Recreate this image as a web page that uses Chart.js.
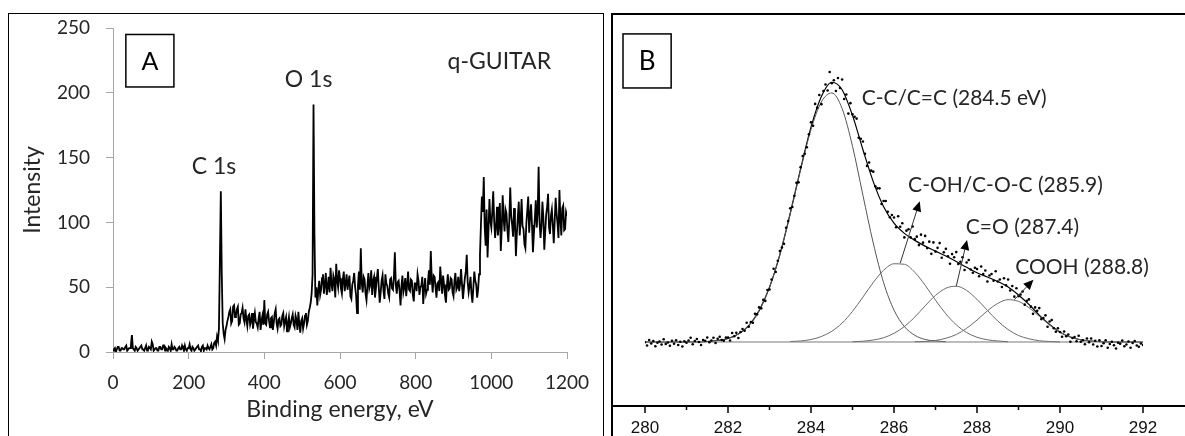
<!DOCTYPE html>
<html>
<head>
<meta charset="utf-8">
<script src="https://cdn.jsdelivr.net/npm/chart.js@4.4.1/dist/chart.umd.min.js"></script>
<style>
  html, body { margin: 0; padding: 0; background: #fff; }
  body { width: 1185px; height: 436px; position: relative; overflow: hidden; }
  canvas { position: absolute; top: 0; }
  #chartA { left: 0; }
  #chartB { left: 612px; }
  .frame { position: absolute; box-sizing: border-box; pointer-events: none; }
  #frameA { left: 8px; top: 13px; width: 596px; height: 440px; border: 1.5px solid #000; border-bottom: none; }
  #frameB { left: 611px; top: 13px; width: 600px; height: 440px; border-left: 2px solid #000; border-top: 2px solid #000; }
</style>
</head>
<body>
<canvas id="chartA" width="603" height="436"></canvas>
<canvas id="chartB" width="573" height="436"></canvas>
<div class="frame" id="frameA"></div>
<div class="frame" id="frameB"></div>
<script>
(() => {
    'use strict'

    // --- panel A : survey spectrum, one value every 2.5 eV from 0 to 1200 eV (20 values = 50 eV per row)
    const surveyStart = 0
    const surveyStep = 2.5
    const surveyCounts = [
        1, 2, 3, 0, 2, 4, 4, 1, 1, 3, 3, 2, 2, 4, 5, 1, 2, 3, 3, 6,
        13, 3, 2, 1, 4, 3, 1, 2, 3, 4, 5, 2, 2, 1, 3, 5, 1, 2, 4, 3,
        2, 8, 6, 1, 2, 3, 3, 1, 1, 4, 4, 2, 2, 5, 5, 1, 3, 2, 1, 4,
        3, 1, 6, 2, 2, 4, 3, 1, 1, 3, 4, 2, 2, 5, 3, 1, 5, 2, 1, 3,
        3, 6, 2, 1, 4, 3, 1, 2, 3, 4, 5, 2, 2, 1, 4, 5, 1, 3, 3, 2,
        5, 3, 2, 4, 6, 2, 3, 7, 8, 5, 12, 9, 18, 70, 124, 60, 22, 14, 10, 17,
        20, 24, 27, 31, 33, 22, 24, 35, 36, 27, 28, 33, 35, 21, 22, 29, 30, 34, 26, 23,
        33, 25, 20, 28, 29, 21, 24, 30, 18, 25, 30, 23, 22, 19, 26, 31, 17, 24, 28, 21,
        40, 22, 21, 29, 31, 24, 19, 26, 27, 17, 23, 30, 33, 22, 18, 25, 26, 20, 21, 28,
        30, 20, 24, 27, 16, 22, 27, 19, 22, 26, 29, 21, 19, 28, 25, 17, 31, 22, 15, 24,
        26, 18, 22, 28, 30, 21, 24, 31, 34, 38, 45, 60, 191, 90, 42, 50, 36, 47, 55, 44,
        48, 57, 60, 45, 52, 61, 44, 50, 58, 46, 65, 53, 47, 59, 56, 42, 68, 55, 50, 63,
        57, 49, 45, 56, 62, 47, 53, 60, 48, 54, 59, 43, 41, 52, 55, 61, 50, 44, 30, 51,
        62, 48, 80, 53, 46, 58, 56, 45, 40, 51, 61, 49, 52, 63, 44, 55, 58, 42, 49, 57,
        64, 50, 38, 46, 55, 59, 47, 41, 60, 53, 51, 45, 42, 56, 57, 49, 48, 58, 77, 52,
        45, 54, 55, 47, 36, 51, 59, 46, 50, 57, 43, 52, 62, 48, 47, 56, 55, 44, 39, 53,
        53, 47, 60, 55, 44, 50, 51, 58, 37, 49, 57, 45, 48, 54, 63, 52, 78, 56, 46, 59,
        58, 50, 42, 53, 54, 47, 66, 55, 45, 59, 52, 44, 38, 51, 60, 48, 49, 57, 56, 46,
        43, 55, 61, 48, 50, 58, 47, 53, 64, 52, 41, 49, 57, 62, 75, 54, 46, 51, 58, 45,
        38, 50, 62, 55, 52, 42, 48, 60, 75, 98, 120, 108, 135, 96, 82, 110, 73, 94, 118, 101,
        96, 108, 124, 101, 88, 97, 112, 90, 99, 115, 78, 95, 121, 103, 93, 110, 107, 94, 85, 102,
        127, 105, 98, 89, 111, 100, 74, 92, 104, 116, 90, 101, 118, 97, 95, 83, 80, 99, 109, 120,
        92, 105, 114, 98, 77, 91, 103, 117, 96, 108, 143, 100, 88, 97, 116, 104, 79, 93, 106, 112,
        122, 96, 91, 105, 110, 98, 84, 101, 119, 107, 99, 88, 125, 103, 90, 111, 113, 94, 95, 108,
        105
    ]
    const surveyNotes = [
        { text: 'C 1s', x: 267, y: 143 },
        { text: 'O 1s', x: 517, y: 210 },
        { text: 'q-GUITAR', x: 1021, y: 224 }
    ]

    // --- panel B : C 1s high resolution, fitted curves every 0.25 eV from 280 to 292 eV
    const fitStart = 280
    const fitStep = 0.25
    const fitEnvelope = [
        0, 0, 0, 0, 0, 0, 0.2, 0.6, 1.4, 3.2, 6.6, 12.6, 22.0, 35.1, 51.7, 69.6,
        86.3, 98.6, 104.3, 101.3, 91.0, 77.3, 64.4, 54.3, 47.7, 43.6, 40.8, 38.5,
        36.5, 34.5, 32.3, 30.0, 27.8, 26.1, 24.3, 22.1, 18.9, 15.1, 10.8, 7.0,
        3.9, 2.0, 0.9, 0.4, 0.1, 0, 0, 0, 0
    ]
    const peakCC = [
        null, null, null, null, null, null,
        0.2, 0.6, 1.4, 3.2, 6.6, 12.6, 22.0, 35.1, 51.5, 69.2, 85.3, 96.4, 100.0,
        93.7, 78.6, 59.0, 39.7, 23.8, 12.8, 6.2, 2.7, 1.0, 0.4, 0.1,
        null, null, null, null, null, null, null, null, null, null,
        null, null, null, null, null, null, null, null, null
    ]
    const peakCOH = [
        null, null, null, null, null, null, null, null, null, null, null, null, null, null,
        0.2, 0.4, 1.0, 2.2, 4.3, 7.6, 12.3, 18.0, 23.9, 28.8, 31.4, 31.2, 28.0,
        22.8, 16.8, 11.3, 6.9, 3.8, 1.9, 0.9, 0.4, 0.1,
        null, null, null, null, null, null, null, null, null, null, null, null, null
    ]
    const peakCO = [
        null, null, null, null, null, null, null, null, null, null,
        null, null, null, null, null, null, null, null, null, null,
        0.1, 0.3, 0.8, 1.7, 3.5, 6.2, 10.0, 14.5, 18.7, 21.6, 22.4, 20.7, 17.1,
        12.7, 8.4, 5.0, 2.6, 1.3, 0.5, 0.2, 0,
        null, null, null, null, null, null, null, null
    ]
    const peakCOOH = [
        null, null, null, null, null, null, null, null, null, null,
        null, null, null, null, null, null, null, null, null, null,
        null, null, null, null, null, null,
        0.1, 0.2, 0.6, 1.5, 3.0, 5.5, 8.8, 12.5, 15.5, 17.0, 16.3, 13.8, 10.3,
        6.8, 3.9, 2.0, 0.9, 0.4, 0.1,
        null, null, null, null
    ]
    // measured points, one every 0.05 eV from 280 to 292 eV (20 values = 1 eV per row)
    const rawStart = 280
    const rawStep = 0.05
    const rawCounts = [
        -0.1, -1.4, 0.8, -0.6, 0.4, -1.7, -0.3, 0.2, -1.0, 1.1, -0.8, -0.2, -1.5, 0.5, -0.7, 0.7, -1.2, 0.1, -1.8, 0.3,
        -0.3, 0.6, 1.7, -0.9, 0.4, 1.2, 0.0, -1.2, 0.8, 0.5, 1.8, -0.1, 0.6, 1.7, -0.4, 1.3, 2.1, 0.8, 0.5, 1.8,
        1.8, 0.6, 3.6, 2.3, 3.7, 1.6, 4.0, 5.2, 4.5, 7.7, 6.1, 8.0, 7.7, 11.3, 11.1, 13.9, 13.5, 16.9, 16.5, 20.9,
        21.1, 25.1, 29.4, 28.1, 32.6, 36.5, 37.9, 39.4, 45.9, 48.6, 53.7, 54.2, 58.7, 63.9, 64.1, 70.2, 74.7, 75.6, 78.2, 83.4,
        88.2, 86.8, 95.6, 94.1, 99.2, 95.5, 100.8, 103.4, 101.0, 108.4, 103.9, 105.1, 100.8, 106.0, 102.0, 105.4, 97.6, 99.4, 91.7, 95.9,
        91.4, 90.4, 89.7, 82.0, 81.6, 80.5, 75.6, 70.7, 72.1, 68.8, 68.4, 62.5, 61.7, 61.7, 55.4, 56.6, 56.6, 52.3, 50.1, 51.0,
        50.0, 46.1, 50.5, 46.3, 47.7, 42.0, 44.7, 45.3, 42.0, 46.4, 41.3, 42.3, 38.9, 43.1, 39.9, 42.6, 37.7, 40.3, 35.4, 40.0,
        36.3, 37.8, 39.7, 33.8, 36.0, 37.4, 34.4, 31.4, 35.3, 34.0, 36.1, 31.3, 32.2, 34.0, 28.9, 31.9, 32.9, 29.1, 27.8, 29.8,
        29.3, 26.4, 30.3, 27.3, 28.7, 24.3, 26.7, 27.3, 24.6, 28.4, 24.3, 25.1, 22.1, 25.6, 22.8, 25.1, 20.7, 22.5, 18.2, 21.6,
        18.4, 19.1, 20.3, 15.0, 16.5, 17.1, 14.2, 11.3, 13.9, 12.5, 13.6, 9.2, 9.6, 10.7, 6.1, 8.2, 8.8, 5.5, 4.1, 5.5,
        4.0, 2.1, 4.2, 2.3, 3.0, 0.1, 1.6, 2.0, 0.3, 2.5, 0.1, 0.7, -0.9, 1.4, -0.1, 1.4, -1.0, 0.5, -1.8, 0.7,
        -1.6, -0.5, 0.7, -2.3, -0.8, 0.1, -1.3, -2.6, -0.3, -0.7, 0.6, -1.7, -1.0, 0.2, -2.3, -0.4, 0.4, -1.4, -1.9, -0.6,
        -1.2
    ]
    const fitNotes = [
        { text: 'C-C/C=C (284.5 eV)', x: 285.22, y: 98 },
        { text: 'C-OH/C-O-C (285.9)', x: 286.34, y: 63 },
        { text: 'C=O (287.4)', x: 287.73, y: 46.2 },
        { text: 'COOH (288.8)', x: 288.92, y: 30.1 }
    ]
    const fitArrows = [
        { from: [286.15, 31.7], to: [286.62, 56.5] },
        { from: [287.5, 22.4], to: [287.76, 41] },
        { from: [288.9, 17], to: [289.36, 25] }
    ]

    const toPoints = (start, step, values) => values.map((v, i) => ({ x: +(start + i * step).toFixed(3), y: v }))

    const textColor = '#262626'

    // text + letter box (and arrows) drawn in data space
    const notesPlugin = {
        id: 'notes',
        afterDatasetsDraw(chart, args, opts) {
            const { ctx, scales: { x, y } } = chart
            ctx.save()
            ctx.fillStyle = textColor
            ctx.textBaseline = 'middle'
            ctx.font = opts.font
            ctx.textAlign = opts.align
            opts.notes.forEach(n => ctx.fillText(n.text, x.getPixelForValue(n.x), y.getPixelForValue(n.y)))

            const b = opts.box
            const bx0 = x.getPixelForValue(b.x0), bx1 = x.getPixelForValue(b.x1)
            const by0 = y.getPixelForValue(b.y0), by1 = y.getPixelForValue(b.y1)
            ctx.strokeStyle = '#000'
            ctx.lineWidth = 1.5
            ctx.strokeRect(bx0, by0, bx1 - bx0, by1 - by0)
            ctx.font = opts.boxFont
            ctx.textAlign = 'center'
            ctx.fillStyle = '#000'
            ctx.fillText(b.text, (bx0 + bx1) / 2, (by0 + by1) / 2 + 1)

            ;(opts.arrows || []).forEach(a => {
                const x0 = x.getPixelForValue(a.from[0]), y0 = y.getPixelForValue(a.from[1])
                const x1 = x.getPixelForValue(a.to[0]), y1 = y.getPixelForValue(a.to[1])
                const ang = Math.atan2(y1 - y0, x1 - x0)
                const hl = 10, hw = 4.5
                const bxp = x1 - hl * Math.cos(ang), byp = y1 - hl * Math.sin(ang)
                ctx.strokeStyle = '#333'
                ctx.lineWidth = 1
                ctx.beginPath()
                ctx.moveTo(x0, y0)
                ctx.lineTo(bxp, byp)
                ctx.stroke()
                ctx.fillStyle = '#000'
                ctx.beginPath()
                ctx.moveTo(x1, y1)
                ctx.lineTo(bxp + hw * Math.sin(ang), byp - hw * Math.cos(ang))
                ctx.lineTo(bxp - hw * Math.sin(ang), byp + hw * Math.cos(ang))
                ctx.closePath()
                ctx.fill()
            })
            ctx.restore()
        }
    }

    // x axis of panel B: full width line, long ticks on even eV, short on odd
    const axisBPlugin = {
        id: 'axisB',
        afterDraw(chart) {
            const { ctx, scales: { x } } = chart
            const top = x.top
            ctx.save()
            ctx.strokeStyle = '#000'
            ctx.lineWidth = 2
            ctx.beginPath()
            ctx.moveTo(0, top)
            ctx.lineTo(chart.width, top)
            ctx.stroke()
            ctx.lineWidth = 1.5
            x.ticks.forEach(t => {
                const px = x.getPixelForValue(t.value)
                const len = t.value % 2 === 0 ? 7 : 4
                ctx.beginPath()
                ctx.moveTo(px, top)
                ctx.lineTo(px, top + len)
                ctx.stroke()
            })
            ctx.restore()
        }
    }

    const tickFontA = { family: 'Lato', size: 19 }
    const titleFontA = { family: 'Lato', size: 23 }
    const axisGray = '#a6a6a6'

    new Chart(document.getElementById('chartA'), {
        type: 'line',
        data: {
            datasets: [{
                data: toPoints(surveyStart, surveyStep, surveyCounts),
                borderColor: '#000',
                borderWidth: 1.8,
                pointRadius: 0,
                tension: 0
            }]
        },
        options: {
            responsive: false,
            animation: false,
            layout: { padding: { left: 0, right: 36, top: 28, bottom: 0 } },
            plugins: {
                legend: { display: false },
                tooltip: { enabled: false },
                notes: {
                    notes: surveyNotes,
                    font: '23px Lato',
                    align: 'center',
                    box: { text: 'A', x0: 34, x1: 161, y0: 245, y1: 204.5 },
                    boxFont: '25px Lato'
                }
            },
            scales: {
                x: {
                    type: 'linear',
                    min: 0,
                    max: 1200,
                    afterFit: s => { s.height = 84 },
                    ticks: { stepSize: 200, padding: 12, color: textColor, font: tickFontA, maxRotation: 0, callback: v => String(v) },
                    grid: { drawOnChartArea: false, tickLength: 7, color: axisGray },
                    border: { color: axisGray },
                    title: { display: true, text: 'Binding energy, eV', color: textColor, font: titleFontA, padding: { top: 0, bottom: 13 } }
                },
                y: {
                    min: 0,
                    max: 250,
                    afterFit: s => { s.width = 113 },
                    ticks: { stepSize: 50, padding: 16, color: textColor, font: tickFontA },
                    grid: { drawOnChartArea: false, tickLength: 7, color: axisGray },
                    border: { color: axisGray },
                    title: { display: true, text: 'Intensity', color: textColor, font: titleFontA, padding: { top: 19, bottom: 0 } }
                }
            }
        },
        plugins: [notesPlugin]
    })

    const curve = (values, color, width) => ({
        data: toPoints(fitStart, fitStep, values),
        borderColor: color,
        borderWidth: width,
        pointRadius: 0,
        cubicInterpolationMode: 'monotone',
        spanGaps: false
    })

    new Chart(document.getElementById('chartB'), {
        type: 'line',
        data: {
            datasets: [
                {
                    data: toPoints(rawStart, rawStep, rawCounts),
                    showLine: false,
                    pointRadius: 1.3,
                    pointBorderWidth: 0,
                    pointBackgroundColor: '#000'
                },
                {
                    data: [{ x: 280, y: 0 }, { x: 292, y: 0 }],
                    borderColor: '#7a7a7a',
                    borderWidth: 1,
                    pointRadius: 0
                },
                curve(peakCC, '#555', 1),
                curve(peakCOH, '#6a6a6a', 1),
                curve(peakCO, '#6a6a6a', 1),
                curve(peakCOOH, '#6a6a6a', 1),
                curve(fitEnvelope, '#000', 1.2)
            ]
        },
        options: {
            responsive: false,
            animation: false,
            layout: { padding: { left: 33, right: 42, top: 14, bottom: 0 } },
            plugins: {
                legend: { display: false },
                tooltip: { enabled: false },
                notes: {
                    notes: fitNotes,
                    font: '21px Lato',
                    align: 'left',
                    box: { text: 'B', x0: 279.47, x1: 280.63, y0: 123.7, y1: 102 },
                    boxFont: '26px Lato',
                    arrows: fitArrows
                }
            },
            scales: {
                x: {
                    type: 'linear',
                    min: 280,
                    max: 292,
                    afterFit: s => { s.height = 30 },
                    ticks: {
                        stepSize: 1,
                        autoSkip: false,
                        maxRotation: 0,
                        padding: 12,
                        color: '#111',
                        font: { family: 'Liberation Sans', size: 17 },
                        callback: v => (v % 2 === 0 ? String(v) : '')
                    },
                    grid: { drawOnChartArea: false, drawTicks: false },
                    border: { display: false }
                },
                y: { display: false, min: -25.7, max: 131.7 }
            }
        },
        plugins: [notesPlugin, axisBPlugin]
    })
})()
</script>
</body>
</html>
